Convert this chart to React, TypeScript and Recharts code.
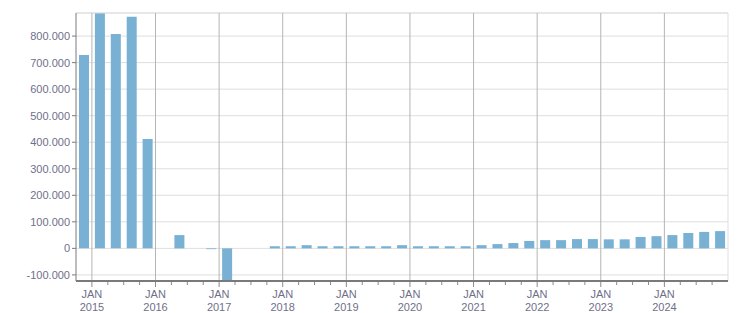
import { BarChart, Bar, XAxis, YAxis, CartesianGrid, ReferenceLine } from "recharts";

const quarters = [
  "2014 Q4",
  "2015 Q1", "2015 Q2", "2015 Q3", "2015 Q4",
  "2016 Q1", "2016 Q2", "2016 Q3", "2016 Q4",
  "2017 Q1", "2017 Q2", "2017 Q3", "2017 Q4",
  "2018 Q1", "2018 Q2", "2018 Q3", "2018 Q4",
  "2019 Q1", "2019 Q2", "2019 Q3", "2019 Q4",
  "2020 Q1", "2020 Q2", "2020 Q3", "2020 Q4",
  "2021 Q1", "2021 Q2", "2021 Q3", "2021 Q4",
  "2022 Q1", "2022 Q2", "2022 Q3", "2022 Q4",
  "2023 Q1", "2023 Q2", "2023 Q3", "2023 Q4",
  "2024 Q1", "2024 Q2", "2024 Q3", "2024 Q4",
];

const values = [
  729000,
  890000, 808000, 873000, 412000,
  0, 50000, 0, -3000,
  -130000, 0, 0, 8000,
  8000, 12000, 8000, 8000,
  8000, 8000, 8000, 12000,
  8000, 8000, 8000, 8000,
  12000, 16000, 20000, 28000,
  31000, 31000, 35000, 35000,
  34000, 34000, 43000, 46000,
  50000, 58000, 62000, 65000,
];

const years = ["2015", "2016", "2017", "2018", "2019", "2020", "2021", "2022", "2023", "2024"];
const yTicks = [-100000, 0, 100000, 200000, 300000, 400000, 500000, 600000, 700000, 800000];
const yDomain = [-123000, 887000];

const data = quarters.map((q, i) => ({ x: i, quarter: q, value: values[i] }));
const boundaries = quarters.slice(1).map((_, i) => i + 0.5);
const janTicks = years.map((y) => quarters.indexOf(`${y} Q1`) - 0.5);

const FONT = "'Liberation Sans', Arial, sans-serif";
const TEXT = "#6f6f8a";

const fmt = (v: number) => {
  const s = Math.abs(v).toString().replace(/\B(?=(\d{3})+(?!\d))/g, ".");
  return v < 0 ? "-" + s : s;
};

function XTick(props: any) {
  const { x, y, payload } = props;
  const idx = janTicks.indexOf(payload.value);
  const major = idx >= 0;
  return (
    <g>
      <line x1={x} x2={x} y1={y + 1} y2={y + (major ? 6 : 4)} stroke="#8a8a8a" />
      {major && (
        <text x={x} y={y + 17} textAnchor="middle" fontSize={11} fontFamily={FONT} fill={TEXT}>
          JAN
        </text>
      )}
      {major && (
        <text x={x} y={y + 30} textAnchor="middle" fontSize={11} fontFamily={FONT} fill={TEXT}>
          {years[idx]}
        </text>
      )}
    </g>
  );
}

export default function App() {
  return (
    <div style={{ position: "absolute", left: 0, top: 0, background: "#fff" }}>
      <BarChart width={751} height={313} data={data} margin={{ top: 13, right: 23, bottom: 0, left: 0 }}>
        <CartesianGrid vertical={false} stroke="#dedede" />
        <XAxis
          dataKey="x"
          type="number"
          domain={[-0.5, quarters.length - 0.5]}
          ticks={boundaries}
          interval={0}
          height={32}
          tickSize={0}
          tickMargin={0}
          tickLine={false}
          tick={<XTick />}
          axisLine={{ stroke: "#7a7a7a", strokeWidth: 2 }}
        />
        <YAxis
          width={76}
          domain={yDomain}
          ticks={yTicks}
          allowDataOverflow
          interval={0}
          tickFormatter={fmt}
          tickSize={4}
          tickMargin={2}
          tick={{ fontSize: 11, fontFamily: FONT, fill: TEXT }}
          tickLine={{ stroke: "#7a7a7a" }}
          axisLine={{ stroke: "#7a7a7a" }}
        />
        <ReferenceLine y={yDomain[1]} stroke="#dedede" />
        <ReferenceLine x={quarters.length - 0.5} stroke="#dedede" />
        {janTicks.map((t) => (
          <ReferenceLine key={t} x={t} stroke="#b5b5b5" />
        ))}
        <Bar dataKey="value" fill="#78b1d3" barSize={10} isAnimationActive={false} />
      </BarChart>
    </div>
  );
}
